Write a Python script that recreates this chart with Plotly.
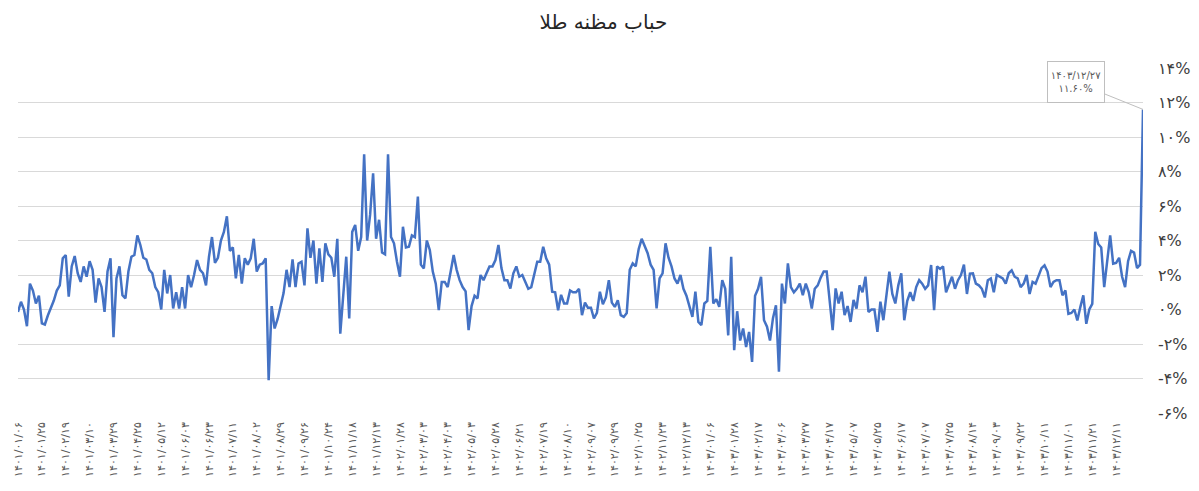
import plotly.graph_objects as go

# bubble of the gold coin quote, in percent, one value per trading point
bubble_part1 = [-0.14, 0.45, 0.0, -0.97, 1.5, 1.1, 0.35, 0.8, -0.8, -0.87, -0.35, 0.1, 0.52, 1.1,
                1.4, 2.97, 3.16, 0.74, 2.5, 3.1, 2.1, 1.6, 2.5, 1.9, 2.8, 2.3, 0.4, 1.8, 1.3, -0.14,
                2.2, 2.97, -1.6, 1.8, 2.5, 0.83, 0.64, 2.2, 3.06, 3.16, 4.3]
bubble_part2 = [3.74, 3.0, 2.9, 2.3, 2.1, 1.3, 1.0, 0.0, 2.3, 0.93, 2.0, 0.06, 1.0, 0.06, 1.3,
                0.06, 2.0, 1.3, 2.0, 2.87, 2.3, 2.1, 1.4, 3.06, 4.2, 2.7, 3.0, 4.0, 4.5, 5.4, 3.4,
                3.6, 1.8, 3.16, 1.5, 2.97, 2.6, 2.97, 4.1, 2.2, 2.6, 2.67, 2.97, -4.1, 0.2]
bubble_part3 = [-1.1, -0.55, 0.3, 0.95, 2.3, 1.3, 2.9, 1.3, 2.67, 2.77, 1.4, 4.7, 3.0, 4.0, 1.5,
                3.55, 1.6, 3.84, 3.2, 3.0, 1.9, 4.1, -1.4, 1.0, 3.06, -0.52, 4.5, 4.9, 3.4, 4.2,
                9.0, 4.0, 5.5, 7.9, 4.1, 5.2, 3.3, 3.2, 9.0, 4.2, 3.84, 2.77, 1.9, 4.8, 3.6]
bubble_part4 = [3.64, 4.3, 4.2, 6.55, 2.6, 2.38, 4.0, 3.45, 2.2, 1.5, -0.04, 1.6, 1.6, 1.3, 2.2,
                3.16, 2.3, 1.7, 1.3, 1.05, -1.2, 0.2, 0.8, 0.64, 2.0, 1.7, 2.1, 2.5, 2.5, 2.87,
                3.74, 2.4, 1.7, 1.7, 1.22, 2.1, 2.5, 1.9, 2.0, 1.6, 1.2, 1.3, 2.0, 2.77, 2.77]
bubble_part5 = [3.64, 2.97, 2.6, 1.03, 1.0, -0.04, 0.85, 0.35, 0.35, 1.1, 1.0, 1.0, 1.2, -0.33,
                0.4, 0.1, 0.1, -0.52, -0.2, 1.03, 0.3, 0.7, 1.7, 0.4, 0.15, 0.54, -0.33, -0.43,
                -0.2, 2.3, 2.67, 2.5, 3.5, 4.1, 3.64, 3.26, 2.6, 2.3, 0.06, 1.8, 2.1, 3.84, 3.0,
                2.5, 1.8]
bubble_part6 = [1.5, 2.0, 1.2, 0.8, 0.2, -0.43, 1.03, -0.72, -0.9, 0.35, 0.5, 3.64, 0.35, 0.6,
                0.15, 1.7, 1.2, -1.5, 3.06, -2.36, -0.1, -1.8, -1.1, -2.17, -1.3, -3.04, 0.8, 1.2,
                1.9, -0.62, -1.0, -1.8, -0.5, 0.25, -3.6, 1.5, 0.35, 2.67, 1.3, 1.0, 1.2, 1.5,
                0.83, 1.5, 1.0]
bubble_part7 = [0.06, 1.2, 1.4, 1.85, 2.2, 2.2, 0.6, -1.2, 1.22, 0.35, 1.03, -0.33, 0.2, -0.72,
                0.55, 0.06, 1.4, 1.0, 1.9, -0.14, 0.0, 0.0, -1.3, 0.45, -0.62, 0.83, 2.2, 0.9,
                0.35, 1.4, 2.1, -0.62, 0.5, 1.0, 0.5, 1.3, 1.7, 1.5, 1.2, 1.4, 2.58, -0.04, 2.5,
                2.35, 2.5]
bubble_part8 = [1.0, 1.4, 1.9, 1.2, 1.7, 2.0, 2.6, 0.9, 2.08, 2.1, 1.5, 1.4, 1.2, 0.7, 1.7, 1.8,
                1.0, 2.0, 1.9, 1.8, 1.5, 2.1, 2.27, 1.9, 1.8, 1.3, 1.5, 2.0, 0.9, 1.6, 1.5, 1.9,
                2.4, 2.56, 2.2, 1.3, 1.6, 1.7, 1.7, 0.82, 1.1, -0.25, -0.2, 0.0, -0.64, 0.14, 0.82,
                -0.83, 0.0, 0.33, 4.5, 3.8, 3.6, 1.3, 3.0, 4.3, 2.66, 2.7, 3.0, 1.9, 1.3,
                2.8, 3.4, 3.3, 2.4, 2.6, 11.6]

bubble = (bubble_part1 + bubble_part2 + bubble_part3 + bubble_part4
          + bubble_part5 + bubble_part6 + bubble_part7 + bubble_part8)

# one date label every 8 points
tick_step = 8
tick_dates = ["1401/01/06", "1401/01/25", "1401/02/19", "1401/03/10", "1401/03/29", "1401/04/25",
              "1401/05/12", "1401/06/03", "1401/06/23", "1401/07/11", "1401/08/02", "1401/08/29",
              "1401/09/26", "1401/10/24", "1401/11/18", "1401/12/13", "1402/01/28", "1402/03/03",
              "1402/04/03", "1402/05/03", "1402/05/28", "1402/06/21", "1402/07/19", "1402/08/10",
              "1402/09/07", "1402/09/29", "1402/10/25", "1402/11/23", "1402/12/13", "1403/01/06",
              "1403/01/28", "1403/02/17", "1403/03/06", "1403/03/27", "1403/04/17", "1403/05/07",
              "1403/05/25", "1403/06/17", "1403/07/07", "1403/07/25", "1403/08/14", "1403/09/03",
              "1403/09/22", "1403/10/11", "1403/11/01", "1403/11/21", "1403/12/11"]
last_date = "1403/12/27"
y_ticks = list(range(-6, 15, 2))

to_fa = str.maketrans("0123456789", "۰۱۲۳۴۵۶۷۸۹")

x = list(range(len(bubble)))

fig = go.Figure(
    go.Scatter(x=x, y=bubble, mode="lines",
               line=dict(color="#4472C4", width=2.5))
)

fig.add_annotation(
    x=x[-1], y=bubble[-1],
    text=last_date.translate(to_fa) + "<br>" + f"{bubble[-1]:.2f}%".translate(to_fa),
    showarrow=True, arrowhead=0, arrowwidth=1, arrowcolor="#bfbfbf",
    ax=-67, ay=-27,
    bgcolor="white", bordercolor="#bfbfbf", borderwidth=1,
    width=54, height=38,
    font=dict(size=10, color="#595959"),
)

# the page adds an 8px body margin, so the figure is a bit smaller than the window
fig.update_layout(
    width=1191, height=483,
    paper_bgcolor="white", plot_bgcolor="white",
    font=dict(family="DejaVu Sans, sans-serif", color="#595959"),
    margin=dict(l=4, r=56, t=60, b=78),
    showlegend=False,
    title=dict(text="حباب مظنه طلا", x=0.5, xanchor="center",
               y=0.971, yanchor="middle", yref="container",
               font=dict(size=20, color="#262626")),
    xaxis=dict(
        range=[0, len(bubble) - 1],
        tickmode="array",
        tickvals=[i * tick_step for i in range(len(tick_dates))],
        ticktext=[d.translate(to_fa) for d in tick_dates],
        tickangle=-90, tickfont=dict(size=11, color="#595959"),
        ticklabeloverflow="allow",
        showgrid=False, zeroline=False, showline=False,
        ticklabelstandoff=6,
    ),
    yaxis=dict(
        side="right", range=[-6, 14],
        tickmode="array", tickvals=y_ticks,
        ticktext=[f"{v}%".translate(to_fa) for v in y_ticks],
        tickfont=dict(size=16, color="#404040"),
        showgrid=True, gridcolor="#d9d9d9", gridwidth=1,
        zeroline=False, showline=False,
        ticklabelstandoff=14,
    ),
)

fig.write_html("out.html")
